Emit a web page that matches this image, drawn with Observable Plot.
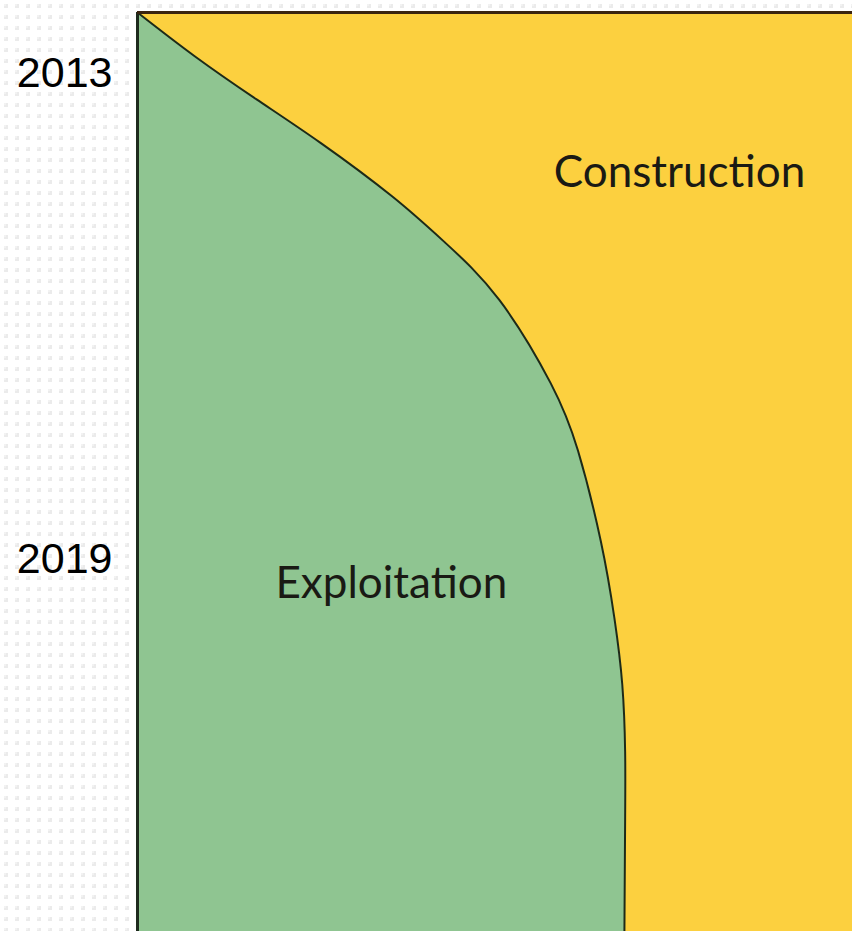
<!DOCTYPE html>
<html>
<head>
<meta charset="utf-8">
<script src="https://cdn.jsdelivr.net/npm/d3@7"></script>
<script src="https://cdn.jsdelivr.net/npm/@observablehq/plot@0.6"></script>
<style>
  html, body { margin: 0; padding: 0; }
  body {
    width: 852px; height: 931px; overflow: hidden;
    background-color: #ffffff;
    background-image: url("data:image/svg+xml,%3Csvg xmlns='http://www.w3.org/2000/svg' width='11' height='11'%3E%3Crect x='4' y='4' width='4' height='4' fill='%23ebebeb'/%3E%3Crect x='4' y='4' width='2' height='2' fill='%23f2f2f2'/%3E%3C/svg%3E");
    background-size: 11px 11px;
    background-position: 0px 0px;
  }
  #chart svg { display: block; background: transparent; }
</style>
</head>
<body>
<div id="chart"></div>
<script>
// Years (fractional) along the vertical axis, top to bottom
const years = [2012.25, 2012.79, 2013.32, 2013.86, 2014.52, 2015.09, 2015.80, 2016.83, 2017.66, 2018.78, 2019.73, 2020.55, 2021.38, 2022.21, 2023.6];
// Share of exploitation (%) — the rest is construction
const exploitation = [0, 8.0, 16.6, 25.6, 35.6, 43.0, 50.6, 57.8, 61.6, 64.8, 66.7, 67.8, 68.2, 68.2, 68.1];
const yTicks = [2013, 2019];
const labelNames = ["Construction", "Exploitation"];
const labelShare = [75.8, 35.5];
const labelYear = [2014.23, 2019.31];

const data = years.map((y, i) => ({year: y, expl: exploitation[i], total: 100}));
const labels = labelNames.map((n, i) => ({name: n, x: labelShare[i], y: labelYear[i]}));

const chart = Plot.plot({
  width: 852,
  height: 931,
  marginTop: 12,
  marginLeft: 137,
  marginRight: 0,
  marginBottom: 0,
  style: {background: "transparent", fontFamily: "Liberation Sans, Arial, sans-serif", overflow: "visible"},
  x: {domain: [0, 100], axis: null},
  y: {domain: [years[0], years[years.length - 1]], reverse: true},
  marks: [
    Plot.areaX(data, {y: "year", x1: "expl", x2: "total", fill: "#fcd03f", curve: "natural"}),
    Plot.areaX(data, {y: "year", x1: 0, x2: "expl", fill: "#8fc591", curve: "natural"}),
    Plot.lineX(data, {y: "year", x: "expl", stroke: "#1d2a18", strokeWidth: 2, curve: "natural"}),
    Plot.ruleX([0], {stroke: "#1e2b1e", strokeWidth: 3}),
    Plot.ruleY([years[0]], {stroke: "#3a2410", strokeWidth: 3}),
    Plot.text(labels, {x: "x", y: "y", text: "name", fontSize: 44, fill: "#1a1a14",
      fontFamily: "Lato, 'Open Sans', sans-serif", textAnchor: "middle"}),
    Plot.axisY({ticks: yTicks, tickSize: 0, tickPadding: 25, tickFormat: d => String(d),
      fontSize: 43, fill: "#000", label: null})
  ]
});
document.getElementById("chart").appendChild(chart);
</script>
</body>
</html>
